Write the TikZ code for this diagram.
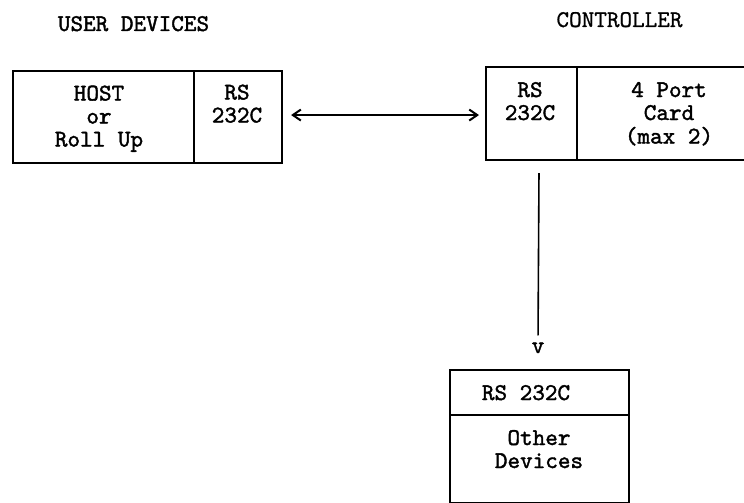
\documentclass[tikz,border=0pt]{standalone}
\usepackage{fontspec}
\newfontfamily\twbold{lmmono10-regular.otf}[FakeBold=1.6]
\newfontfamily\twmed{lmmono10-regular.otf}[FakeBold=0.8]
\usetikzlibrary{arrows.meta}
\tikzset{
  lbl/.style={font=\fontsize{24}{23}\twbold\selectfont, inner sep=0pt, anchor=base},
  box/.style={draw, line width=2.1pt, inner sep=0pt, anchor=north west},
  conn/.style={line width=1.6pt},
  barb/.style={{Straight Barb[length=8pt,width=11pt,line width=2pt]}-{Straight Barb[length=8pt,width=11pt,line width=2pt]}}
}
\newcommand{\mylines}[1]{\begin{tabular}[t]{@{}c@{}}#1\end{tabular}}
\begin{document}
\begin{tikzpicture}[x=1pt,y=1pt]
\useasboundingbox (0,0) rectangle (744,-503);
\clip (0,0) rectangle (744,-503);
% boxes
\node[box, minimum width=181pt, minimum height=92pt] (host) at (12,-70) {};
\node[box, minimum width=88pt, minimum height=92pt] (lrs) at (193,-70) {};
\node[box, minimum width=91pt, minimum height=93pt] (rrs) at (485,-66) {};
\node[box, minimum width=200pt, minimum height=93pt] (card) at (576,-66) {};
\node[box, minimum width=179pt, minimum height=45pt] (brs) at (449,-369) {};
\node[box, minimum width=179pt, minimum height=88pt] (dev) at (449,-414) {};
% titles
\node[lbl] (tuser) at (133.5,-31) {USER DEVICES};
\node[lbl, font=\fontsize{24}{23}\twmed\selectfont] (tctrl) at (619.5,-27) {CONTROLLER};
% texts
\node[lbl] (thost) at (99,-100.5) {\mylines{HOST\\or\\Roll Up}};
\node[lbl] (tlrs) at (237,-99.5) {\mylines{RS\\232C}};
\node[lbl] (trrs) at (530,-97) {\mylines{RS\\232C}};
\node[lbl] (tcard) at (669,-97) {\mylines{4 Port\\Card\\(max 2)}};
\node[lbl] (tbrs) at (526,-400) {RS 232C};
\node[lbl] (tdev) at (539,-445) {\mylines{Other\\Devices}};
\node[lbl] (v) at (538,-353) {v};
% connectors
\draw[conn, barb, shorten <=8pt, shorten >=6pt] ([yshift=2pt]lrs.east) -- ([yshift=-1.5pt]rrs.west);
\draw[conn, shorten <=12pt, shorten >=7pt] ([xshift=7.5pt]rrs.south) -- (v.north);
\end{tikzpicture}
\end{document}
